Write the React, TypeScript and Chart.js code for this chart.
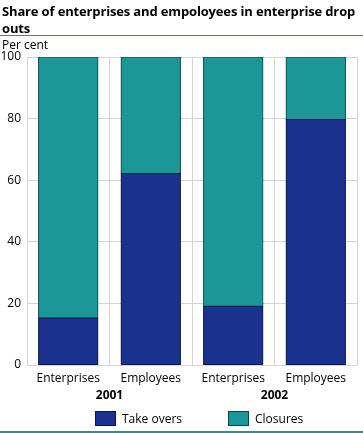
import React, { useEffect, useRef } from "react";
import { Chart, registerables } from "chart.js";

Chart.register(...registerables);

const categories = ["Enterprises", "Employees", "Enterprises", "Employees"];
const years = ["2001", "2002"];
const takeOvers = [15.3, 62.2, 19.1, 79.7];
const closures = [84.7, 37.8, 80.9, 20.3];
const yTicks = [0, 20, 40, 60, 80, 100];

const NAVY = "#1a318e";
const TEAL = "#1b9797";
const FONT = "'Open Sans', 'DejaVu Sans', sans-serif";

export default function App() {
  const ref = useRef<HTMLCanvasElement | null>(null);

  useEffect(() => {
    document.body.style.margin = "0";
    const canvas = ref.current;
    if (!canvas) return;
    const chart = new Chart(canvas, {
      type: "bar",
      data: {
        labels: categories,
        datasets: [
          {
            label: "Take overs",
            data: takeOvers,
            backgroundColor: NAVY,
            borderColor: "#0c1646",
            borderWidth: 1,
            borderSkipped: false,
            inflateAmount: 0.5,
            barPercentage: 0.72,
            categoryPercentage: 1,
          },
          {
            label: "Closures",
            data: closures,
            backgroundColor: TEAL,
            borderColor: "#0b4646",
            borderWidth: 1,
            borderSkipped: false,
            inflateAmount: 0.5,
            barPercentage: 0.72,
            categoryPercentage: 1,
          },
        ],
      },
      options: {
        animation: false,
        responsive: false,
        maintainAspectRatio: false,
        layout: { padding: { top: 57, right: 6, left: 0, bottom: 30 } },
        plugins: { legend: { display: false }, tooltip: { enabled: false }, title: { display: false } },
        scales: {
          x: {
            stacked: true,
            grid: { display: true, offset: true, color: "#d4d4d4", drawTicks: false, lineWidth: 1 },
            border: { display: true, color: "#d4d4d4" },
            ticks: { color: "#000", font: { family: FONT, size: 12 }, padding: 6, maxRotation: 0, autoSkip: false },
            afterFit: (s: any) => { s.height = 21; },
          },
          x2: {
            type: "category",
            labels: years,
            position: "bottom",
            grid: { display: false, drawTicks: false },
            border: { display: false },
            ticks: { color: "#000", font: { family: FONT, size: 12, weight: "bold" }, padding: 2 },
            afterFit: (s: any) => { s.height = 17; },
          },
          y: {
            stacked: true,
            min: 0,
            max: 100,
            afterBuildTicks: (s: any) => { s.ticks = yTicks.map((v) => ({ value: v })); },
            grid: { color: "#d4d4d4", drawTicks: false, lineWidth: 1 },
            border: { display: true, color: "#d4d4d4" },
            ticks: { color: "#000", font: { family: FONT, size: 12 }, padding: 6 },
            afterFit: (s: any) => { s.width = 27; },
          },
        },
      },
    } as any);
    return () => chart.destroy();
  }, []);

  const legendBox = (color: string, border: string) => ({
    display: "inline-block",
    width: 21,
    height: 15,
    background: color,
    border: `1px solid ${border}`,
    boxSizing: "border-box" as const,
  });

  return (
    <div style={{ position: "relative", width: 363, height: 433, background: "#fff", fontFamily: FONT, overflow: "hidden" }}>
      <canvas ref={ref} width={363} height={433} style={{ position: "absolute", left: 0, top: 0, width: 363, height: 433 }} />
      <div style={{ position: "absolute", left: 2, top: 3, whiteSpace: "nowrap", fontSize: 13, letterSpacing: "-0.15px", fontWeight: "bold", lineHeight: "17px", color: "#000" }}>
        Share of enterprises and empoloyees in enterprise drop
        <br />
        outs
      </div>
      <div style={{ position: "absolute", left: 0, top: 35, width: 363, height: 1, background: TEAL }} />
      <div style={{ position: "absolute", left: 2, top: 37, fontSize: 12, color: "#000", lineHeight: "16px" }}>Per cent</div>
      <div style={{ position: "absolute", left: 95, top: 410, display: "flex", alignItems: "center", fontSize: 12, color: "#000" }}>
        <span style={legendBox(NAVY, "#0c1646")} />
        <span style={{ marginLeft: 6 }}>Take overs</span>
      </div>
      <div style={{ position: "absolute", left: 228, top: 410, display: "flex", alignItems: "center", fontSize: 12, color: "#000" }}>
        <span style={legendBox(TEAL, "#0b4646")} />
        <span style={{ marginLeft: 6 }}>Closures</span>
      </div>
      <div style={{ position: "absolute", left: 0, top: 431, width: 363, height: 2, background: TEAL }} />
    </div>
  );
}
